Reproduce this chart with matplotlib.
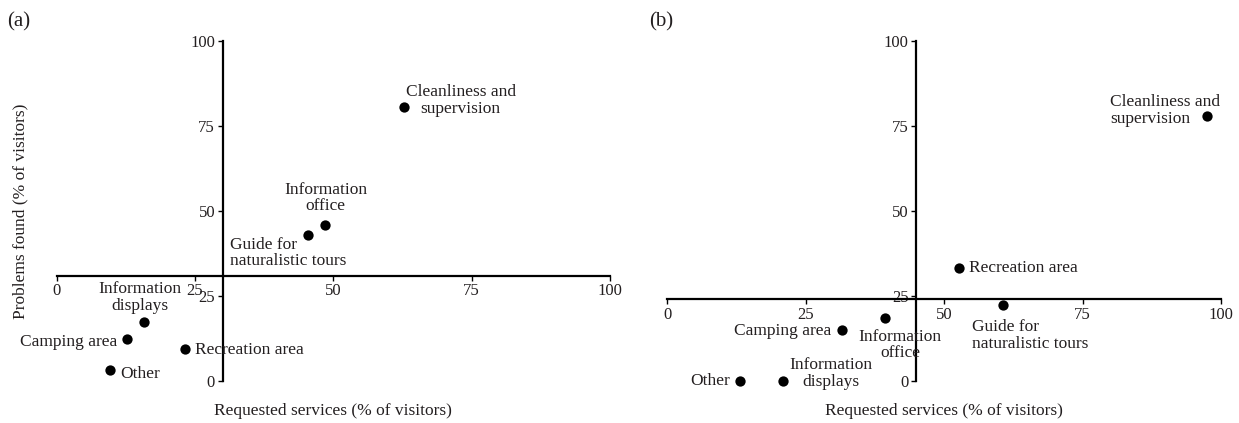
import matplotlib
matplotlib.use("Agg")
import matplotlib.pyplot as plt

plt.rcParams['font.family'] = ['Liberation Serif', 'DejaVu Serif']
TXT = '#231f20'

# ---- data ----
ticks = [0, 25, 50, 75, 100]
tick_labels = ['0', '25', '50', '75', '100']

a_names = ['Cleanliness and\nsupervision', 'Information\noffice', 'Guide for\nnaturalistic tours',
           'Information\ndisplays', 'Camping area', 'Recreation area', 'Other']
a_x = [62.8, 48.5, 45.5, 15.7, 12.65, 23.1, 9.6]
a_y = [80.6, 46.0, 43.0, 17.4, 12.4, 9.3, 3.2]
a_cross = (30, 31)

b_names = ['Cleanliness and\nsupervision', 'Recreation area', 'Guide for\nnaturalistic tours',
           'Information\noffice', 'Camping area', 'Information\ndisplays', 'Other']
b_x = [97.4, 52.6, 60.6, 39.4, 31.6, 20.95, 13.1]
b_y = [77.9, 33.3, 22.2, 18.6, 15.0, 0.0, 0.0]
b_cross = (45, 24)

# label placement (x, y, ha)
a_lab = [(73.0, 82.6, 'center'), (48.6, 53.9, 'center'), (31.3, 37.7, 'left'),
         (15.0, 24.5, 'center'), (10.85, 11.4, 'right'), (25.0, 9.06, 'left'), (11.4, 2.0, 'left')]
b_lab = [(79.95, 79.7, 'left'), (54.4, 33.2, 'left'), (55.0, 13.3, 'left'),
         (42.0, 10.5, 'center'), (29.6, 14.75, 'right'), (29.5, 2.1, 'center'), (11.3, 0.0, 'right')]

fig = plt.figure(figsize=(12.39, 4.23), dpi=100)
axA = fig.add_axes([0.0458, 0.100, 0.4465, 0.802])
axB = fig.add_axes([0.5386, 0.100, 0.4469, 0.802])

def panel(ax, xs, ys, names, labs, cross):
    ax.set_xlim(0, 100)
    ax.set_ylim(0, 100)
    ax.scatter(xs, ys, s=55, color='black', zorder=5, clip_on=False, linewidths=0)
    for n, (tx, ty, ha) in zip(names, labs):
        ax.text(tx, ty, n, ha=ha, va='center', fontsize=12.5, color=TXT,
                linespacing=1.05, multialignment=ha if ha != 'right' else 'right')
    for s in ['top', 'right']:
        ax.spines[s].set_visible(False)
    ax.spines['left'].set_position(('data', cross[0]))
    ax.spines['bottom'].set_position(('data', cross[1]))
    for s in ['left', 'bottom']:
        ax.spines[s].set_linewidth(1.6)
        ax.spines[s].set_color('black')
    ax.set_xticks(ticks)
    ax.set_xticklabels(tick_labels)
    ax.set_yticks(ticks)
    ax.set_yticklabels(tick_labels)
    ax.tick_params(direction='out', length=3.5, width=1.0, labelsize=12,
                   labelcolor=TXT, pad=2)
    ax.patch.set_visible(False)

panel(axA, a_x, a_y, a_names, a_lab, a_cross)
panel(axB, b_x, b_y, b_names, b_lab, b_cross)

fig.text(0.2688, 0.028, 'Requested services (% of visitors)', ha='center', va='center',
         fontsize=12.5, color=TXT)
fig.text(0.7620, 0.028, 'Requested services (% of visitors)', ha='center', va='center',
         fontsize=12.5, color=TXT)
fig.text(0.0165, 0.501, 'Problems found (% of visitors)', ha='center', va='center',
         rotation=90, fontsize=12.5, color=TXT)
fig.text(0.006, 0.948, '(a)', ha='left', va='center', fontsize=15, color=TXT)
fig.text(0.524, 0.948, '(b)', ha='left', va='center', fontsize=15, color=TXT)

fig.savefig('out.png', dpi=100)
